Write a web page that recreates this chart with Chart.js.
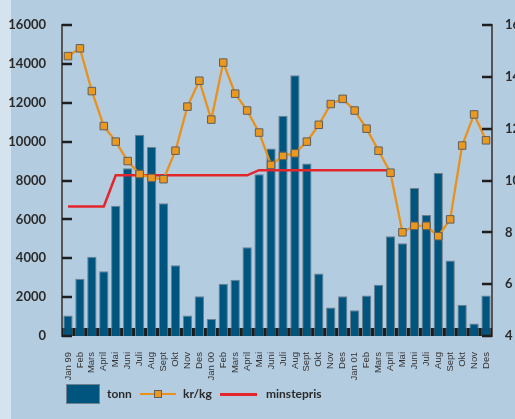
<!DOCTYPE html>
<html>
<head>
<meta charset="utf-8">
<script src="https://cdn.jsdelivr.net/npm/chart.js@4.4.1/dist/chart.umd.min.js"></script>
<style>
  html, body { margin: 0; padding: 0; background: #b4cce0; }
  #wrap { position: relative; width: 515px; height: 419px; overflow: hidden; }
  #c { position: absolute; left: 0; top: 0; }
  #legend { position: absolute; left: 66px; top: 384px; height: 20px; font-family: Lato, "Open Sans", sans-serif; font-weight: bold; font-size: 12px; color: #2a2a2a; }
  .item { position: absolute; top: 0; height: 20px; line-height: 20px; white-space: nowrap; }
  .sw { position: absolute; }
</style>
</head>
<body>
<div id="wrap">
  <canvas id="c" width="515" height="419"></canvas>
  <div id="legend"></div>
</div>
<script>
const labels = ['Jan 99','Feb','Mars','April','Mai','Juni','Juli','Aug','Sept','Okt','Nov','Des',
                'Jan 00','Feb','Mars','April','Mai','Juni','Juli','Aug','Sept','Okt','Nov','Des',
                'Jan 01','Feb','Mars','April','Mai','Juni','Juli','Aug','Sept','Okt','Nov','Des'];
const tonn = [1050,2950,4080,3330,6700,8630,10350,9720,6830,3640,1050,2040,
              870,2690,2900,4560,8320,9650,11330,13410,8880,3210,1470,2040,
              1320,2090,2640,5130,4770,7610,6220,8390,3890,1610,640,2090];
const krkg = [14.8,15.1,13.45,12.1,11.5,10.75,10.25,10.1,10.05,11.15,12.85,13.85,
              12.35,14.55,13.35,12.7,11.85,10.6,10.95,11.05,11.5,12.15,12.95,13.15,
              12.7,12.0,11.15,10.3,8.0,8.25,8.25,7.85,8.5,11.35,12.55,11.55];
const minstepris = [9,9,9,9,10.2,10.2,10.2,10.2,10.2,10.2,10.2,10.2,
                    10.2,10.2,10.2,10.2,10.4,10.4,10.4,10.4,10.4,10.4,10.4,10.4,
                    10.4,10.4,10.4,10.4,null,null,null,null,null,null,null,null];
const leftTicks = {min: 0, max: 16000, step: 2000};
const rightTicks = {min: 4, max: 16, step: 2};
const seriesNames = ['tonn','kr/kg','minstepris'];

const BAR = '#00557f', ORANGE = '#e8911c', RED = '#e3262c';

const bgPlugin = {
  id: 'bg',
  beforeDraw(chart) {
    const ctx = chart.ctx;
    ctx.save();
    ctx.fillStyle = '#b4cce0';
    ctx.fillRect(0, 0, chart.width, chart.height);
    ctx.fillStyle = '#d4e3ed';
    ctx.fillRect(0, 0, 11, chart.height);
    ctx.restore();
  },
  beforeDatasetsDraw(chart) {
    const ctx = chart.ctx, y0 = chart.scales.y.getPixelForValue(0), a = chart.chartArea;
    ctx.save();
    ctx.fillStyle = '#1c1c1c';
    ctx.fillRect(a.left, y0 - 8, a.right - a.left, 8);
    ctx.restore();
  },
  afterDraw(chart) {
    const ctx = chart.ctx, ys = chart.scales.y, yr = chart.scales.y1, a = chart.chartArea;
    ctx.save();
    ctx.strokeStyle = '#1e1e1e';
    ctx.lineWidth = 2.5;
    ys.ticks.forEach(t => {
      const p = Math.round(ys.getPixelForValue(t.value));
      ctx.beginPath(); ctx.moveTo(a.left, p); ctx.lineTo(a.left + 10, p); ctx.stroke();
    });
    yr.ticks.forEach(t => {
      const p = Math.round(yr.getPixelForValue(t.value));
      ctx.beginPath(); ctx.moveTo(a.right - 10, p); ctx.lineTo(a.right, p); ctx.stroke();
    });
    ctx.restore();
  }
};

new Chart(document.getElementById('c'), {
  data: {
    labels: labels,
    datasets: [
      { type: 'bar', label: seriesNames[0], data: tonn, yAxisID: 'y', order: 3,
        backgroundColor: BAR, borderColor: '#6f7f8c', borderWidth: 1,
        barPercentage: 0.78, categoryPercentage: 1.0 },
      { type: 'line', label: seriesNames[2], data: minstepris, yAxisID: 'y1', order: 2,
        borderColor: RED, borderWidth: 2.5, pointRadius: 0, tension: 0, spanGaps: false },
      { type: 'line', label: seriesNames[1], data: krkg, yAxisID: 'y1', order: 1,
        borderColor: ORANGE, borderWidth: 2.3, tension: 0,
        pointStyle: 'rect', pointRadius: 5.3, pointBackgroundColor: '#eb981e',
        pointBorderColor: '#5e5e5e', pointBorderWidth: 1 }
    ]
  },
  options: {
    responsive: false,
    animation: false,
    devicePixelRatio: 1,
    layout: { padding: { top: 25, left: 0, right: 0, bottom: 0 } },
    plugins: { legend: { display: false }, tooltip: { enabled: false } },
    scales: {
      x: {
        type: 'category', offset: true,
        grid: { display: false }, border: { display: false },
        ticks: { autoSkip: false, minRotation: 90, maxRotation: 90, padding: 8,
                 color: '#333', font: { family: 'Liberation Sans', size: 9.5 } },
        afterFit(s) { s.height = 83; }
      },
      y: {
        position: 'left', min: leftTicks.min, max: leftTicks.max,
        grid: { display: false },
        border: { display: true, color: '#555', width: 2 },
        ticks: { stepSize: leftTicks.step, padding: 8, color: '#2a2a2a',
                 callback: v => String(v),
                 font: { family: 'Lato', weight: 'bold', size: 13 } },
        afterFit(s) { s.width = 62; }
      },
      y1: {
        position: 'right', min: rightTicks.min, max: rightTicks.max,
        grid: { display: false },
        border: { display: true, color: '#555', width: 2 },
        ticks: { stepSize: rightTicks.step, padding: 5, color: '#2a2a2a',
                 callback: v => String(v),
                 font: { family: 'Lato', weight: 'bold', size: 13 } },
        afterFit(s) { s.width = 23; }
      }
    }
  },
  plugins: [bgPlugin]
});

// HTML legend
const lg = document.getElementById('legend');
lg.innerHTML =
  '<div class="sw" style="left:0;top:0;width:32px;height:18px;background:' + BAR + ';border:1px solid #6f7f8c"></div>' +
  '<div class="item" style="left:41px">' + seriesNames[0] + '</div>' +
  '<div class="sw" style="left:74px;top:9px;width:36px;height:2px;background:' + ORANGE + '"></div>' +
  '<div class="sw" style="left:88px;top:6px;width:6px;height:6px;background:#eb981e;border:1px solid #5e5e5e"></div>' +
  '<div class="item" style="left:117px">' + seriesNames[1] + '</div>' +
  '<div class="sw" style="left:154px;top:9px;width:37px;height:2.5px;background:' + RED + '"></div>' +
  '<div class="item" style="left:200px">' + seriesNames[2] + '</div>';
</script>
</body>
</html>
